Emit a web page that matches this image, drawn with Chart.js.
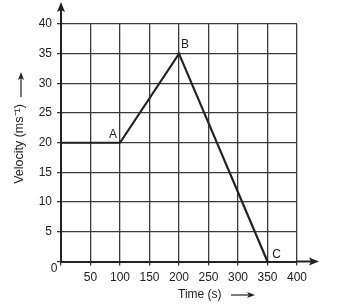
<!DOCTYPE html>
<html>
<head>
<meta charset="utf-8">
<script src="https://cdn.jsdelivr.net/npm/chart.js@4.4.0/dist/chart.umd.min.js"></script>
<style>
  html, body { margin: 0; padding: 0; background: #fff; }
  #wrap { width: 341px; height: 307px; position: relative; }
</style>
</head>
<body>
<div id="wrap"><canvas id="chart" width="341" height="307"></canvas></div>
<script>
// velocity-time data
const timeValues = [0, 100, 200, 350];
const velocityValues = [20, 20, 35, 0];
const pointNames = ['', 'A', 'B', 'C'];
const xTicks = [0, 50, 100, 150, 200, 250, 300, 350, 400];
const yTicks = [0, 5, 10, 15, 20, 25, 30, 35, 40];

const ink = '#222';
const gridInk = '#3a3a3a';
const font = '"Liberation Sans", Arial, sans-serif';

// arrows, point names, axis titles
const extras = {
  id: 'extras',
  afterDraw(chart) {
    const c = chart.ctx;
    const xs = chart.scales.x, ys = chart.scales.y;
    const area = chart.chartArea;
    const x0 = xs.getPixelForValue(0), y0 = ys.getPixelForValue(0);
    c.save();
    c.strokeStyle = ink;
    c.fillStyle = ink;
    c.lineWidth = 2;
    // x axis extension + arrow
    c.beginPath();
    c.moveTo(area.right, y0);
    c.lineTo(314, y0);
    c.stroke();
    c.beginPath();
    c.moveTo(319, y0);
    c.lineTo(309, y0 - 4);
    c.lineTo(311, y0);
    c.lineTo(309, y0 + 4);
    c.closePath();
    c.fill();
    // y axis extension + arrow
    c.beginPath();
    c.moveTo(x0, area.top);
    c.lineTo(x0, 7);
    c.stroke();
    c.beginPath();
    c.moveTo(x0, 2);
    c.lineTo(x0 - 4, 12);
    c.lineTo(x0, 10);
    c.lineTo(x0 + 4, 12);
    c.closePath();
    c.fill();

    // point names
    c.font = '12px ' + font;
    c.textBaseline = 'middle';
    c.textAlign = 'center';
    const offs = [null, [-7, -8], [6, -9], [9, -7]];
    pointNames.forEach((n, i) => {
      if (!n) return;
      const px = xs.getPixelForValue(timeValues[i]);
      const py = ys.getPixelForValue(velocityValues[i]);
      c.fillText(n, px + offs[i][0], py + offs[i][1]);
    });

    // origin zero
    c.font = '12px ' + font;
    c.fillText('0', 54, 269);

    // x title
    c.font = '12px ' + font;
    c.textAlign = 'left';
    c.fillText('Time (s)', 178, 295);
    c.lineWidth = 1.2;
    c.beginPath();
    c.moveTo(231, 295);
    c.lineTo(252, 295);
    c.stroke();
    c.beginPath();
    c.moveTo(255, 295);
    c.lineTo(247, 292);
    c.lineTo(249, 295);
    c.lineTo(247, 298);
    c.closePath();
    c.fill();

    // y title
    c.save();
    c.translate(20, 144);
    c.rotate(-Math.PI / 2);
    c.textAlign = 'center';
    c.font = '12.5px ' + font;
    c.fillText('Velocity (ms\u207B\u00B9)', 0, 0);
    c.restore();
    c.beginPath();
    c.moveTo(21, 97);
    c.lineTo(21, 76);
    c.stroke();
    c.beginPath();
    c.moveTo(21, 72);
    c.lineTo(18, 80);
    c.lineTo(21, 78);
    c.lineTo(24, 80);
    c.closePath();
    c.fill();
    c.restore();
  }
};

new Chart(document.getElementById('chart'), {
  type: 'scatter',
  data: {
    datasets: [{
      data: timeValues.map((t, i) => ({ x: t, y: velocityValues[i] })),
      showLine: true,
      borderColor: ink,
      borderWidth: 2.2,
      pointRadius: 0,
      tension: 0,
    }]
  },
  options: {
    responsive: false,
    animation: false,
    layout: { padding: { left: 0, right: 44, top: 24, bottom: 0 } },
    plugins: { legend: { display: false }, tooltip: { enabled: false } },
    scales: {
      x: {
        type: 'linear',
        min: 0, max: 400,
        afterBuildTicks: (s) => { s.ticks = xTicks.map(v => ({ value: v })); },
        afterFit: (s) => { s.height = 45.5; },
        grid: { color: gridInk, lineWidth: 1.3, tickLength: 4, tickColor: gridInk },
        border: { color: ink, width: 2 },
        ticks: {
          color: ink, padding: 5, maxRotation: 0,
          font: { family: font, size: 12 },
          callback: (v) => v === 0 ? '' : v
        }
      },
      y: {
        type: 'linear',
        min: 0, max: 40,
        afterBuildTicks: (s) => { s.ticks = yTicks.map(v => ({ value: v })); },
        afterFit: (s) => { s.width = 61; },
        grid: { color: gridInk, lineWidth: 1.3, tickLength: 4, tickColor: gridInk },
        border: { color: ink, width: 2 },
        ticks: {
          color: ink, padding: 5,
          font: { family: font, size: 12 },
          callback: (v) => v === 0 ? '' : v
        }
      }
    }
  },
  plugins: [extras]
});
</script>
</body>
</html>
